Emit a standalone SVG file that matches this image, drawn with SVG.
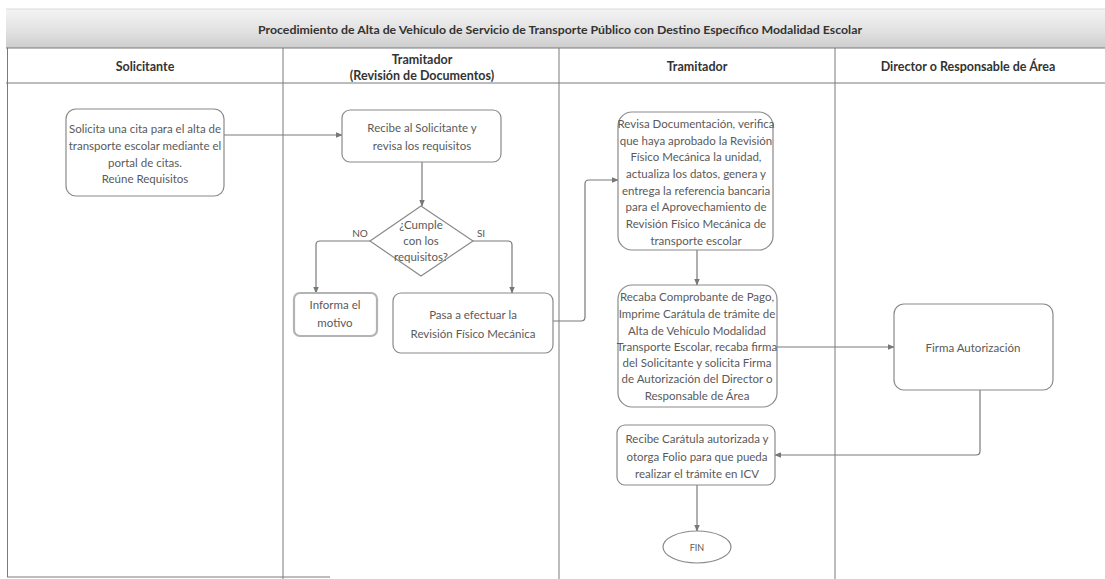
<svg xmlns="http://www.w3.org/2000/svg" width="1105" height="579" viewBox="0 0 1105 579">
  <defs>
    <linearGradient id="band" x1="0" y1="0" x2="0" y2="1">
      <stop offset="0" stop-color="#f4f4f4"/>
      <stop offset="0.6" stop-color="#e0e0e0"/>
      <stop offset="1" stop-color="#cdcdcd"/>
    </linearGradient>
    <marker id="arr" viewBox="0 0 10 10" refX="9" refY="5" markerWidth="7" markerHeight="7" orient="auto" markerUnits="userSpaceOnUse">
      <path d="M0,1 L10,5 L0,9 z" fill="#777"/>
    </marker>
  </defs>
  <style>
    .lane { stroke: #7a7a7a; stroke-width: 1; fill: none; }
    .box { fill: #fff; stroke: #8a8a8a; stroke-width: 1.2; }
    .box2 { fill: #fff; stroke: #b3b3b3; stroke-width: 2.2; }
    .t { font-family: Lato, "Liberation Sans", sans-serif; font-size: 11.5px; fill: #5a5a5a; text-anchor: middle; }
    .h { font-family: Lato, "Liberation Sans", sans-serif; font-size: 12.5px; font-weight: bold; fill: #333; text-anchor: middle; }
    .title { font-family: Lato, "Liberation Sans", sans-serif; font-size: 11.5px; font-weight: bold; fill: #333; text-anchor: middle; }
    .c { stroke: #7a7a7a; stroke-width: 1.2; fill: none; marker-end: url(#arr); }
    .lbl { font-family: Lato, "Liberation Sans", sans-serif; font-size: 10px; fill: #555; text-anchor: middle; }
  </style>

  <rect width="1105" height="579" fill="#fff"/>

  <!-- title band -->
  <g id="title">
    <rect x="6" y="9" width="1099" height="39" fill="url(#band)"/>
    <line x1="6" y1="9" x2="1105" y2="9" stroke="#dadada"/>
    <text class="title" x="560" y="34" textLength="604" lengthAdjust="spacingAndGlyphs">Procedimiento de Alta de Vehículo de Servicio de Transporte Público con Destino Específico Modalidad Escolar</text>
  </g>

  <!-- swimlanes -->
  <g id="lanes">
    <line class="lane" x1="6" y1="48" x2="1105" y2="48"/>
    <line class="lane" x1="6" y1="83" x2="1105" y2="83"/>
    <line class="lane" x1="7.5" y1="48" x2="7.5" y2="577"/>
    <line class="lane" x1="7" y1="577" x2="330" y2="577"/>
    <line class="lane" x1="283" y1="48" x2="283" y2="579"/>
    <line class="lane" x1="559" y1="48" x2="559" y2="579"/>
    <line class="lane" x1="835" y1="48" x2="835" y2="579"/>
    <text class="h" x="145" y="71">Solicitante</text>
    <text class="h" x="422" y="64">Tramitador</text>
    <text class="h" x="422" y="80">(Revisión de Documentos)</text>
    <text class="h" x="697" y="71">Tramitador</text>
    <text class="h" x="968" y="71">Director o Responsable de Área</text>
  </g>

  <!-- connectors -->
  <g id="connectors">
    <path class="c" d="M224,135 H342"/>
    <path class="c" d="M422,162 V206"/>
    <path class="c" d="M370,241 H320 Q316,241 316,245 V293"/>
    <path class="c" d="M473,241 H508 Q512,241 512,245 V293"/>
    <path class="c" d="M553,321 H581 Q585,321 585,317 V184 Q585,180 589,180 H618"/>
    <path class="c" d="M697,250 V285"/>
    <path class="c" d="M777,347 H894"/>
    <path class="c" d="M980,390 V451 Q980,455 976,455 H775"/>
    <path class="c" d="M697,485 V531"/>
    <text class="lbl" x="360" y="237">NO</text>
    <text class="lbl" x="481" y="237">SI</text>
  </g>

  <g id="solicita">
    <rect class="box" x="66" y="109" width="158" height="87" rx="10"/>
    <text class="t" x="145" y="133">Solicita una cita para el alta de</text>
    <text class="t" x="145" y="150">transporte escolar mediante el</text>
    <text class="t" x="145" y="167">portal de citas.</text>
    <text class="t" x="145" y="183">Reúne Requisitos</text>
  </g>

  <g id="recibe">
    <rect class="box" x="342" y="110" width="159" height="52" rx="8"/>
    <text class="t" x="422" y="132">Recibe al Solicitante y</text>
    <text class="t" x="422" y="150">revisa los requisitos</text>
  </g>

  <g id="cumple">
    <polygon class="box" points="421,206 473,241 421,276 370,241"/>
    <text class="t" x="421" y="229">¿Cumple</text>
    <text class="t" x="421" y="245">con los</text>
    <text class="t" x="421" y="261">requisitos?</text>
  </g>

  <g id="informa">
    <rect class="box2" x="294" y="293" width="83" height="43" rx="6"/>
    <text class="t" x="335" y="309">Informa el</text>
    <text class="t" x="335" y="327">motivo</text>
  </g>

  <g id="pasa">
    <rect class="box" x="393" y="293" width="160" height="60" rx="8"/>
    <text class="t" x="473" y="319">Pasa a efectuar la</text>
    <text class="t" x="473" y="338">Revisión Físico Mecánica</text>
  </g>

  <g id="revisa">
    <rect class="box" x="618" y="112" width="155" height="138" rx="14"/>
    <text class="t" x="696" y="128">Revisa Documentación, verifica</text>
    <text class="t" x="696" y="145">que haya aprobado la Revisión</text>
    <text class="t" x="696" y="161">Físico Mecánica la unidad,</text>
    <text class="t" x="696" y="178">actualiza los datos, genera y</text>
    <text class="t" x="696" y="195">entrega la referencia bancaria</text>
    <text class="t" x="696" y="211">para el Aprovechamiento de</text>
    <text class="t" x="696" y="228">Revisión Físico Mecánica de</text>
    <text class="t" x="696" y="245">transporte escolar</text>
  </g>

  <g id="recaba">
    <rect class="box" x="618" y="285" width="159" height="122" rx="14"/>
    <text class="t" x="697" y="301">Recaba Comprobante de Pago,</text>
    <text class="t" x="697" y="318">Imprime Carátula de trámite de</text>
    <text class="t" x="697" y="335">Alta de Vehículo Modalidad</text>
    <text class="t" x="697" y="351">Transporte Escolar, recaba firma</text>
    <text class="t" x="697" y="367">del Solicitante y solicita Firma</text>
    <text class="t" x="697" y="383">de Autorización del Director o</text>
    <text class="t" x="697" y="400">Responsable de Área</text>
  </g>

  <g id="firma">
    <rect class="box" x="894" y="304" width="159" height="86" rx="10"/>
    <text class="t" x="973" y="352">Firma Autorización</text>
  </g>

  <g id="recibe-caratula">
    <rect class="box" x="617" y="425" width="158" height="60" rx="8"/>
    <text class="t" x="697" y="443">Recibe Carátula autorizada y</text>
    <text class="t" x="697" y="461">otorga Folio para que pueda</text>
    <text class="t" x="697" y="478">realizar el trámite en ICV</text>
  </g>

  <g id="fin">
    <ellipse class="box" cx="697" cy="547" rx="34" ry="16"/>
    <text class="t" x="697" y="551" style="font-size:9px">FIN</text>
  </g>
</svg>
